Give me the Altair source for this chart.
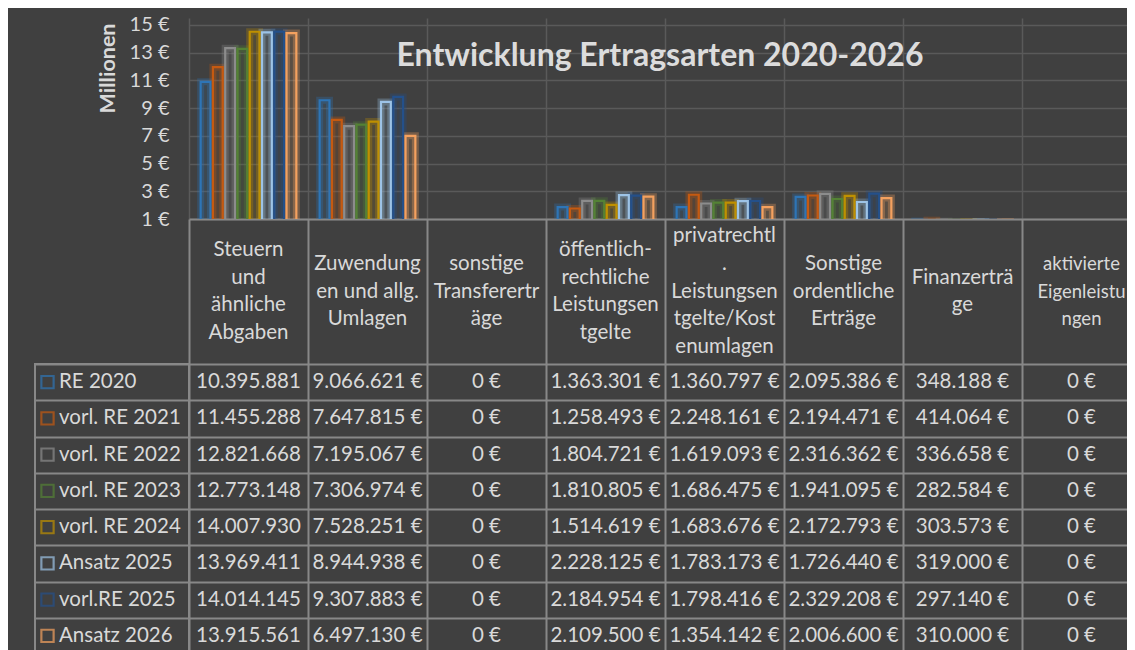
import altair as alt
import pandas as pd

# ---------------- data ----------------
series = ["RE 2020", "vorl. RE 2021", "vorl. RE 2022", "vorl. RE 2023",
          "vorl. RE 2024", "Ansatz 2025", "vorl.RE 2025", "Ansatz 2026"]
series_colors = ["#2E75B6", "#C55A11", "#8C8C8C", "#548235",
                 "#BF9000", "#9DC3E6", "#24508A", "#F4A15F"]

categories = ["Steuern und ähnliche Abgaben",
              "Zuwendungen und allg. Umlagen",
              "sonstige Transfererträge",
              "öffentlich-rechtliche Leistungsentgelte",
              "privatrechtl. Leistungsentgelte/Kostenumlagen",
              "Sonstige ordentliche Erträge",
              "Finanzerträge",
              "aktivierte Eigenleistungen"]
header_lines = [["Steuern", "und", "ähnliche", "Abgaben"],
                ["Zuwendung", "en und allg.", "Umlagen"],
                ["sonstige", "Transferertr", "äge"],
                ["öffentlich-", "rechtliche", "Leistungsen", "tgelte"],
                ["privatrechtl", ".", "Leistungsen", "tgelte/Kost", "enumlagen"],
                ["Sonstige", "ordentliche", "Erträge"],
                ["Finanzerträ", "ge"],
                ["aktivierte", "Eigenleistu", "ngen"]]
euro_sign = [False, True, True, True, True, True, True, True]

steuern = [10395881, 11455288, 12821668, 12773148, 14007930, 13969411, 14014145, 13915561]
zuwendungen = [9066621, 7647815, 7195067, 7306974, 7528251, 8944938, 9307883, 6497130]
transfer = [0, 0, 0, 0, 0, 0, 0, 0]
oeffentlich = [1363301, 1258493, 1804721, 1810805, 1514619, 2228125, 2184954, 2109500]
privat = [1360797, 2248161, 1619093, 1686475, 1683676, 1783173, 1798416, 1354142]
sonstige = [2095386, 2194471, 2316362, 1941095, 2172793, 1726440, 2329208, 2006600]
finanz = [348188, 414064, 336658, 282584, 303573, 319000, 297140, 310000]
aktivierte = [0, 0, 0, 0, 0, 0, 0, 0]
columns = [steuern, zuwendungen, transfer, oeffentlich, privat, sonstige, finanz, aktivierte]

y_ticks = [0.5, 2.5, 4.5, 6.5, 8.5, 10.5, 12.5, 14.5]
title_text = "Entwicklung Ertragsarten 2020-2026"

# ---------------- tables ----------------
rows = []
for ci, cat in enumerate(categories):
    for si, s in enumerate(series):
        v = columns[ci][si]
        lab = f"{v:,}".replace(",", ".") + (" €" if euro_sign[ci] else "")
        rows.append({"category": cat, "series": s, "mio": v / 1e6, "label": lab})
df = pd.DataFrame(rows)

hdr_rows = []
for cat, lines in zip(categories, header_lines):
    n = len(lines)
    for i, ln in enumerate(lines):
        hdr_rows.append({"category": cat, "line": ln, "pos": i - (n - 1) / 2})
hdr_df = pd.DataFrame(hdr_rows)
leg_df = pd.DataFrame({"series": series})

FONT = "Lato"
TXT = "#D9D9D9"
GRID = "#5A5A5A"
LINE = "#888888"

W_VIS = 939      # visible plot width (window ends here)
W_FULL = 952     # 8 columns x 119 px
W_LEG = 154
H_PLOT = 201
H_HDR = 145
H_TAB = 290

color_scale = alt.Scale(domain=series, range=series_colors)
x_scale = alt.Scale(domain=categories, range=[0, W_FULL], paddingInner=0, paddingOuter=0)

x_plot = alt.X("category:N", sort=categories, scale=x_scale,
               axis=alt.Axis(labels=False, ticks=False, domain=True, domainColor=LINE,
                             domainWidth=2, title=None, grid=True, tickBand="extent",
                             gridColor=GRID, gridWidth=1.5))
xoff = alt.XOffset("series:N", sort=series,
                   scale=alt.Scale(domain=series, paddingInner=0.2, paddingOuter=0.95))
y_plot = alt.Y("mio:Q", scale=alt.Scale(domain=[0.5, 15], zero=False, nice=False),
               axis=alt.Axis(values=y_ticks, labelExpr="round(datum.value) + ' €'",
                             labelFontSize=20, labelColor=TXT, labelFont=FONT, labelPadding=20,
                             ticks=False, domain=False, grid=True, gridColor=GRID, gridWidth=1.5,
                             title="Millionen", titleFont=FONT, titleFontSize=21.5,
                             titleFontWeight="bold", titleColor=TXT, titleAngle=-90,
                             titleAlign="right", titleBaseline="middle", titleX=-81, titleY=5))

base = alt.Chart(df)
glow = base.mark_bar(clip=True, fillOpacity=0.14, strokeWidth=7, strokeOpacity=0.3).encode(
    x=x_plot, xOffset=xoff, y=y_plot,
    color=alt.Color("series:N", scale=color_scale, legend=None),
    stroke=alt.Stroke("series:N", scale=color_scale, legend=None))
outline = base.mark_bar(clip=True, filled=False, strokeWidth=2.2).encode(
    x=x_plot, xOffset=xoff, y=y_plot,
    color=alt.Color("series:N", scale=color_scale, legend=None))
title = alt.Chart(pd.DataFrame({"t": [title_text]})).mark_text(
    font=FONT, fontSize=32, fontWeight="bold", color="#DCDCDC", align="center",
    baseline="middle").encode(text="t:N", x=alt.value(471), y=alt.value(38))
bars = alt.layer(glow, outline, title).properties(width=W_VIS, height=H_PLOT)

spacer1 = alt.Chart(pd.DataFrame({"v": [0]})).mark_text(text="").properties(width=W_LEG, height=H_PLOT)
spacer2 = alt.Chart(pd.DataFrame({"v": [0]})).mark_text(text="").properties(width=W_LEG, height=H_HDR)

x_tab = alt.X("category:N", sort=categories, scale=x_scale,
              axis=alt.Axis(labels=False, ticks=False, domain=False, title=None,
                            grid=True, tickBand="extent", gridColor=LINE, gridWidth=2))
y_tab = alt.Y("series:N", sort=series,
              scale=alt.Scale(domain=series, paddingInner=0, paddingOuter=0),
              axis=alt.Axis(labels=False, ticks=False, domain=False, title=None,
                            grid=True, tickBand="extent", gridColor=LINE, gridWidth=2))

half = H_HDR / 27.7 / 2
header = alt.Chart(hdr_df).mark_text(
    font=FONT, color=TXT, align="center", baseline="middle").encode(
    x=x_tab,
    y=alt.Y("pos:Q", scale=alt.Scale(domain=[-half, half], reverse=True), axis=None),
    size=alt.condition(alt.datum.category == categories[-1], alt.value(18.5), alt.value(20.5)),
    text="line:N").properties(width=W_VIS, height=H_HDR)

values = alt.Chart(df).mark_text(
    font=FONT, fontSize=20.5, color=TXT, align="center", baseline="middle").encode(
    x=x_tab, y=y_tab, text="label:N").properties(width=W_VIS, height=H_TAB)

leg_sym = alt.Chart(leg_df).mark_point(shape="square", filled=False, size=150, strokeWidth=2.2).encode(
    x=alt.value(12.5), y=y_tab,
    color=alt.Color("series:N", scale=color_scale, legend=None))
leg_txt = alt.Chart(leg_df).mark_text(
    font=FONT, fontSize=20.5, color=TXT, align="left", baseline="middle").encode(
    x=alt.value(24), y=y_tab, text="series:N")
legend = alt.layer(leg_sym, leg_txt).properties(
    width=W_LEG, height=H_TAB, view=alt.ViewBackground(stroke=LINE, strokeWidth=2))

chart = alt.concat(spacer1, bars, spacer2, header, legend, values,
                   columns=2, spacing=0, bounds="flush").configure(
    background="#404040", font=FONT,
    padding={"left": 26, "top": 6, "right": -14, "bottom": 0}
).configure_view(stroke=None).resolve_scale(color="shared")

chart.save("out.html", embed_options={"renderer": "svg", "actions": False})
